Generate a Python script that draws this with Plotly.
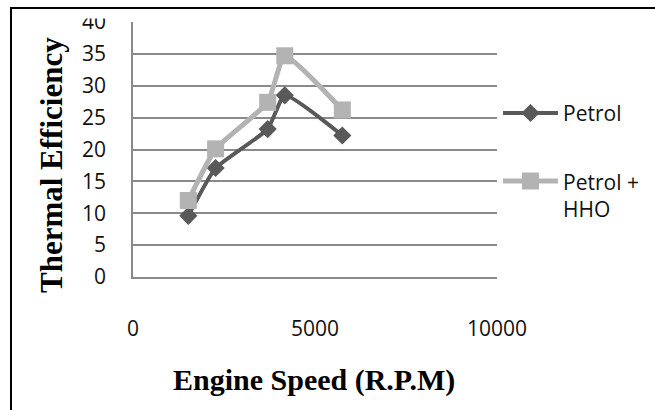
import plotly.graph_objects as go

# ---- data ----
rpm = [1520, 2270, 3700, 4170, 5750]
petrol = [9.6, 17.1, 23.2, 28.5, 22.2]
petrol_hho = [12.0, 20.1, 27.4, 34.7, 26.2]
series_names = ["Petrol", "Petrol +<br>HHO"]
x_ticks = [0, 5000, 10000]
x_tick_labels = ["0", "5000", "10000"]
y_ticks = [0, 5, 10, 15, 20, 25, 30, 35, 40]
x_title = "Engine Speed (R.P.M)"
y_title = "Thermal Efficiency"

W, H = 655, 410
def px(x):
    return x / W
def py(y):
    return 1 - y / H

c_petrol = "#595959"
c_hho = "#b3b3b3"
grid_c = "#8a8a8a"
tick_font = dict(family="Open Sans", size=21, color="#111111")

fig = go.Figure()
fig.add_trace(go.Scatter(
    x=rpm, y=petrol, mode="lines+markers", name="Petrol",
    line=dict(color=c_petrol, width=4, shape="spline", smoothing=0.45),
    marker=dict(symbol="diamond", size=14, color=c_petrol),
    showlegend=False, cliponaxis=False))
fig.add_trace(go.Scatter(
    x=rpm, y=petrol_hho, mode="lines+markers", name="Petrol + HHO",
    line=dict(color=c_hho, width=5, shape="spline", smoothing=0.45),
    marker=dict(symbol="square", size=17, color=c_hho),
    showlegend=False, cliponaxis=False))

# custom legend samples (line with marker in the middle)
leg_rows = [113, 181]
for row, col, sym, sz, lw in [(leg_rows[0], c_petrol, "diamond", 14, 4),
                              (leg_rows[1], c_hho, "square", 17, 5)]:
    fig.add_trace(go.Scatter(
        x=[0, 1], y=[row, row], mode="lines", line=dict(color=col, width=lw),
        xaxis="x2", yaxis="y2", showlegend=False, hoverinfo="skip"))
    fig.add_trace(go.Scatter(
        x=[0.5], y=[row], mode="markers", marker=dict(symbol=sym, size=sz, color=col),
        xaxis="x2", yaxis="y2", showlegend=False, hoverinfo="skip"))

fig.update_layout(
    width=W, height=H,
    margin=dict(l=0, r=0, t=0, b=0, autoexpand=False),
    paper_bgcolor="white", plot_bgcolor="white",
    xaxis=dict(domain=[px(133), px(497)], range=[0, 10000], tickvals=x_ticks,
               ticktext=x_tick_labels, automargin=False,
               showgrid=False, zeroline=False, showline=True, linecolor=grid_c,
               linewidth=1.5, ticks="", tickfont=tick_font, ticklabelstandoff=32),
    yaxis=dict(domain=[py(277), py(22)], range=[0, 40], tickvals=y_ticks, automargin=False,
               showgrid=True, gridcolor=grid_c, gridwidth=1.5, zeroline=False,
               showline=True, linecolor=grid_c, linewidth=1.5, ticks="",
               tickfont=tick_font, ticklabelstandoff=21),
    xaxis2=dict(domain=[px(503), px(558)], range=[0, 1], visible=False),
    yaxis2=dict(domain=[py(200), py(90)], range=[200, 90], visible=False, anchor="x2"),
    showlegend=False,
    annotations=[
        dict(text="<b>" + x_title + "</b>", x=px(314), y=py(380), xref="paper", yref="paper",
             showarrow=False, xanchor="center", yanchor="middle",
             font=dict(family="Liberation Serif", size=30, color="black")),
        dict(text="<b>" + y_title + "</b>", x=px(51), y=py(165), xref="paper", yref="paper",
             showarrow=False, xanchor="center", yanchor="middle", textangle=-90,
             font=dict(family="Liberation Serif", size=31, color="black")),
        dict(text=series_names[0], x=px(561), y=py(leg_rows[0]), xref="paper", yref="paper",
             showarrow=False, xanchor="left", yanchor="middle", align="left",
             font=dict(family="Open Sans", size=21, color="#111111")),
        dict(text=series_names[1], x=px(561), y=py(195), xref="paper", yref="paper",
             showarrow=False, xanchor="left", yanchor="middle", align="left",
             font=dict(family="Open Sans", size=21, color="#111111")),
    ],
    shapes=[
        dict(type="rect", xref="paper", yref="paper", x0=px(11), y0=py(8), x1=1.05, y1=-0.05,
             line=dict(color="black", width=2), fillcolor="rgba(0,0,0,0)", layer="above"),
        dict(type="rect", xref="paper", yref="paper", x0=px(78), y0=py(9.5), x1=px(122), y1=py(18.5),
             line=dict(width=0), fillcolor="white", layer="above"),
    ],
)

fig.write_html("out.html")
